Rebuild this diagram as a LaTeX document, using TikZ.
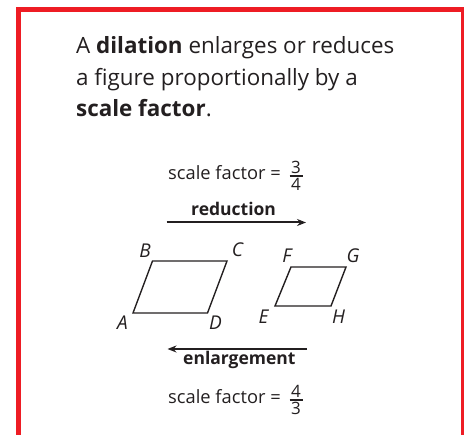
\documentclass[tikz,border=0pt]{standalone}
\usepackage{fontspec}
\setmainfont{Open Sans}
\usetikzlibrary{arrows.meta}
\definecolor{framered}{HTML}{EE1C24}
\definecolor{ink}{HTML}{231F20}
\tikzset{
  headline/.style={anchor=base west, inner sep=0pt, text=ink, font=\fontsize{22.4}{26}\selectfont},
  midtext/.style={anchor=base west, inner sep=0pt, text=ink, font=\fontsize{18.3}{22}\selectfont},
  fracdigit/.style={anchor=base, inner sep=0pt, text=ink, font=\fontsize{17}{18}\selectfont},
  fracbar/.style={draw=ink, line width=1.3pt},
  boldtext/.style={anchor=base west, inner sep=0pt, text=ink, font=\fontsize{17.5}{22}\selectfont\bfseries},
  vlabel/.style={inner sep=0pt, text=ink, font=\fontsize{19}{22}\selectfont\itshape},
  shapeline/.style={draw=ink, line width=1.4pt, line join=miter},
  dirarrow/.style={draw=ink, line width=2pt, -{Stealth[length=9pt,width=7pt]}},
  frameline/.style={draw=framered, line width=5pt, line join=miter}
}
\begin{document}
\begin{tikzpicture}[x=1pt,y=-1pt]
\useasboundingbox (0,0) rectangle (464,435);
% frame
\coordinate (f1) at (18.5,445);
\coordinate (f2) at (18.5,9.5);
\coordinate (f3) at (463.5,9.5);
\coordinate (f4) at (463.5,445);
\draw[frameline] (f1) -- (f2) -- (f3) -- (f4);
% headline
\node[headline] (t1) at (76,53.3) {A \textbf{dilation} enlarges or reduces};
\node[headline] (t2) at (76,85.5) {a figure proportionally by a};
\node[headline] (t3) at (76,116.5) {\textbf{scale factor}.};
% top scale factor
\node[midtext] (sf1) at (168,180) {scale factor =};
\node[fracdigit] (n1) at (296,173.8) {3};
\node[fracdigit] (d1) at (296,190.3) {4};
\coordinate (b1a) at (289.5,176);
\coordinate (b1b) at (302.5,176);
\draw[fracbar] (b1a) -- (b1b);
\node[boldtext] (red) at (191,216) {reduction};
\coordinate (r1) at (166.5,222.5);
\coordinate (r2) at (306,222.5);
\draw[dirarrow] (r1) -- (r2);
% big parallelogram
\coordinate (A) at (133,313);
\coordinate (B) at (152.5,261);
\coordinate (C) at (227,261);
\coordinate (D) at (207.5,313);
\draw[shapeline] (A) -- (B) -- (C) -- (D) -- cycle;
\node[vlabel] (lA) at (122.5,323) {A};
\node[vlabel] (lB) at (145,251) {B};
\node[vlabel] (lC) at (237.5,249.5) {C};
\node[vlabel] (lD) at (215.5,323) {D};
% small parallelogram
\coordinate (E) at (275,306);
\coordinate (F) at (291,267);
\coordinate (G) at (346,267);
\coordinate (H) at (331,306);
\draw[shapeline] (E) -- (F) -- (G) -- (H) -- cycle;
\node[vlabel] (lE) at (263.5,316.5) {E};
\node[vlabel] (lF) at (287,256) {F};
\node[vlabel] (lG) at (353,256) {G};
\node[vlabel] (lH) at (338.5,316.5) {H};
% enlargement
\coordinate (e1) at (307,349);
\coordinate (e2) at (167.5,349);
\draw[dirarrow] (e1) -- (e2);
\node[boldtext] (enl) at (183,365) {enlargement};
\node[midtext] (sf2) at (168,404) {scale factor =};
\node[fracdigit] (n2) at (296,397.8) {4};
\node[fracdigit] (d2) at (296,414.3) {3};
\coordinate (b2a) at (289.5,400);
\coordinate (b2b) at (302.5,400);
\draw[fracbar] (b2a) -- (b2b);
\end{tikzpicture}
\end{document}
